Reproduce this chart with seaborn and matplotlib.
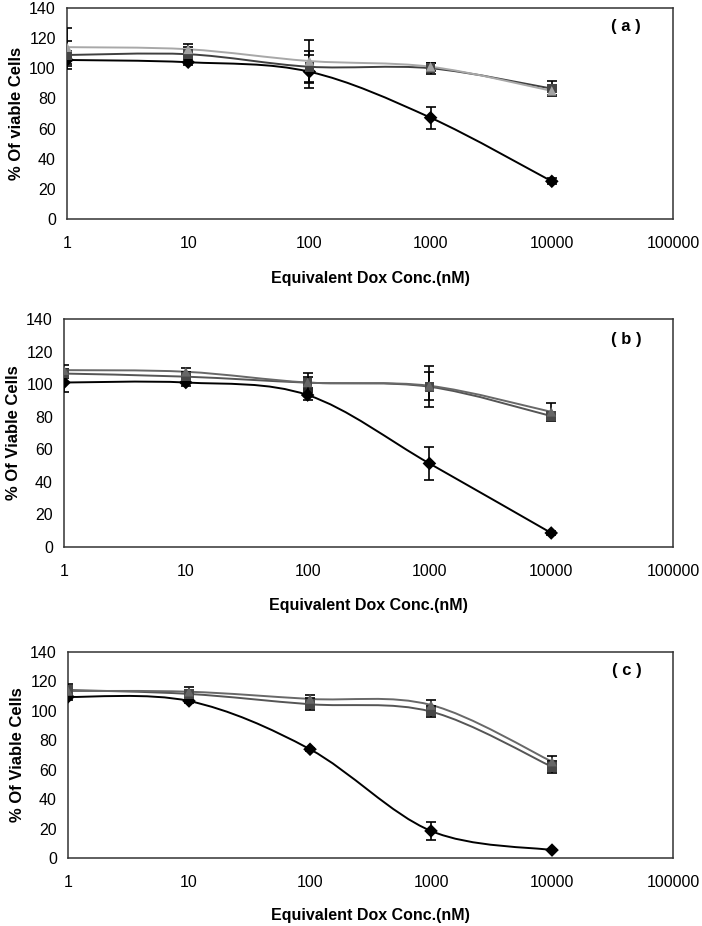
import matplotlib
matplotlib.use('Agg')
import matplotlib.pyplot as plt
import seaborn as sns
import numpy as np
import pandas as pd
from matplotlib.path import Path
from matplotlib.patches import PathPatch

# concentrations (nM)
conc = [1, 10, 100, 1000, 10000]

# panel (a)
a_diamond = [105.5, 104, 97.7, 67.2, 25]
a_diamond_err = [3, 2, 11, 7.2, 2]
a_square = [108.8, 109.3, 101, 100, 86.5]
a_square_err = [9.5, 5, 10.5, 3.5, 5]
a_triangle = [114, 112.6, 104.8, 101, 85]
a_triangle_err = [12.5, 3.5, 14, 2.5, 3]

# panel (b)
b_diamond = [101, 101, 93.3, 51.3, 8.6]
b_diamond_err = [6, 2, 3, 10.3, 1]
b_square = [106.5, 104.6, 100.9, 98.4, 80.4]
b_square_err = [3, 3, 3.5, 12.5, 2.5]
b_triangle = [108.6, 107.6, 101, 99, 83]
b_triangle_err = [3, 2.5, 6, 8.5, 5.5]

# panel (c)
c_diamond = [109.5, 106.7, 73.9, 18.4, 5.4]
c_diamond_err = [2, 1.5, 1, 6, 0.5]
c_square = [114.2, 111.5, 104.5, 99.5, 62]
c_square_err = [4, 2, 4, 3.5, 4]
c_triangle = [113.5, 113, 108.1, 104, 65.5]
c_triangle_err = [2, 3, 2.5, 3.5, 4]

xticks = [1, 10, 100, 1000, 10000, 100000]
xticklabels = ['1', '10', '100', '1000', '10000', '100000']
yticks = [0, 20, 40, 60, 80, 100, 120, 140]
xlabel = 'Equivalent Dox Conc.(nM)'

sns.set_style('white')
plt.rcParams['font.family'] = ['Liberation Sans', 'DejaVu Sans']
plt.rcParams['text.color'] = 'black'
plt.rcParams['axes.labelcolor'] = 'black'
plt.rcParams['xtick.labelcolor'] = 'black'
plt.rcParams['ytick.labelcolor'] = 'black'


def smooth_path(x, y):
    # excel-like smoothed line: cubic bezier through the points in (log x, y)
    lx = np.log10(np.asarray(x, float))
    yy = np.asarray(y, float)
    n = len(lx)
    verts = [(x[0], yy[0])]
    codes = [Path.MOVETO]
    for i in range(n - 1):
        p0 = max(i - 1, 0)
        p3 = min(i + 2, n - 1)
        c1x = lx[i] + (lx[i + 1] - lx[p0]) / 6
        c1y = yy[i] + (yy[i + 1] - yy[p0]) / 6
        c2x = lx[i + 1] - (lx[p3] - lx[i]) / 6
        c2y = yy[i + 1] - (yy[p3] - yy[i]) / 6
        verts += [(10 ** c1x, c1y), (10 ** c2x, c2y), (x[i + 1], yy[i + 1])]
        codes += [Path.CURVE4] * 3
    return Path(verts, codes)


def panel(ax, series, colors, line_colors, ylabel, tag, xpad):
    rows = []
    for name, (vals, errs) in series.items():
        for c, v, e in zip(conc, vals, errs):
            rows.append({'conc': c, 'value': v, 'err': e, 'series': name})
    df = pd.DataFrame(rows)
    # lines
    for name, (vals, errs) in series.items():
        ax.add_patch(PathPatch(smooth_path(conc, vals), facecolor='none',
                               edgecolor=line_colors[name], lw=1.4, zorder=2))
    # error bars
    ax.errorbar(df['conc'], df['value'], yerr=df['err'], fmt='none',
                ecolor='black', elinewidth=1.2, capsize=3.8, capthick=1.2, zorder=3)
    sns.scatterplot(data=df, x='conc', y='value', hue='series', style='series',
                    palette=colors, markers={'diamond': 'D', 'square': 's', 'triangle': '^'},
                    s=48, edgecolor='none', legend=False, ax=ax, zorder=4)
    ax.set_xscale('log')
    ax.set_xlim(1, 100000)
    ax.set_ylim(0, 140)
    ax.set_xticks(xticks)
    ax.set_xticklabels(xticklabels)
    ax.minorticks_off()
    ax.set_yticks(yticks)
    ax.tick_params(axis='both', direction='out', length=4, width=1, labelsize=11.5,
                   color='#333333', pad=4)
    ax.tick_params(axis='x', pad=8)
    for sp in ax.spines.values():
        sp.set_color('#333333')
        sp.set_linewidth(1.1)
    ax.set_xlabel(xlabel, fontsize=11.5, fontweight='bold', labelpad=xpad)
    ax.set_ylabel(ylabel, fontsize=12, fontweight='bold', labelpad=4)
    ax.text(0.923, 0.91, tag, transform=ax.transAxes, ha='center', va='center',
            fontsize=12, fontweight='bold')


fig = plt.figure(figsize=(7.02, 9.26), dpi=100)
ax_a = fig.add_axes([0.0954, 0.7635, 0.8633, 0.2279])
ax_b = fig.add_axes([0.0912, 0.4093, 0.8675, 0.2462])
ax_c = fig.add_axes([0.0969, 0.0734, 0.8618, 0.2225])

panel(ax_a,
      {'diamond': (a_diamond, a_diamond_err), 'square': (a_square, a_square_err),
       'triangle': (a_triangle, a_triangle_err)},
      {'diamond': '#000000', 'square': '#454545', 'triangle': '#a3a3a3'},
      {'diamond': '#000000', 'square': '#404040', 'triangle': '#a8a8a8'},
      '% Of viable Cells', '( a )', 15)
panel(ax_b,
      {'diamond': (b_diamond, b_diamond_err), 'square': (b_square, b_square_err),
       'triangle': (b_triangle, b_triangle_err)},
      {'diamond': '#000000', 'square': '#474747', 'triangle': '#666666'},
      {'diamond': '#000000', 'square': '#555555', 'triangle': '#686868'},
      '% Of Viable Cells', '( b )', 14)
panel(ax_c,
      {'diamond': (c_diamond, c_diamond_err), 'square': (c_square, c_square_err),
       'triangle': (c_triangle, c_triangle_err)},
      {'diamond': '#000000', 'square': '#474747', 'triangle': '#666666'},
      {'diamond': '#000000', 'square': '#555555', 'triangle': '#686868'},
      '% Of Viable Cells', '( c )', 13)

fig.savefig('out.png', dpi=100)
